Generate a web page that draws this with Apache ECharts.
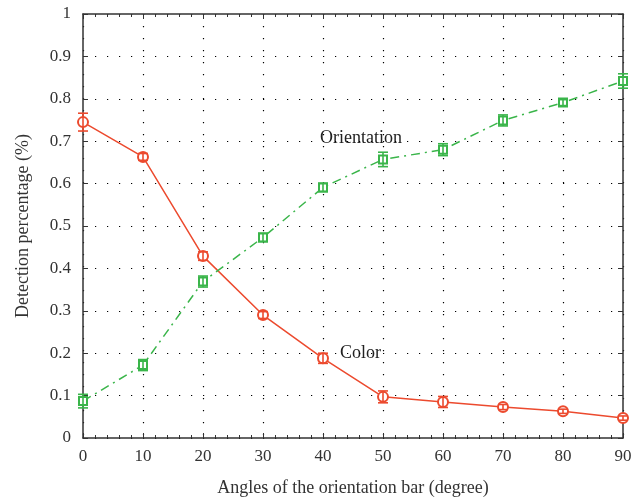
<!DOCTYPE html>
<html><head><meta charset="utf-8">
<script src="https://cdn.jsdelivr.net/npm/echarts@6/dist/echarts.min.js"></script>
<style>html,body{margin:0;padding:0;background:#fff}#c{width:644px;height:498px}</style>
</head><body><div id="c"></div>
<script>
var angles = [0, 10, 20, 30, 40, 50, 60, 70, 80, 90];
var colorVals = [0.745, 0.663, 0.429, 0.290, 0.188, 0.097, 0.085, 0.073, 0.063, 0.047];
var colorErr = [0.021, 0.008, 0.010, 0.008, 0.012, 0.014, 0.013, 0.006, 0.005, 0.005];
var orientVals = [0.087, 0.172, 0.369, 0.473, 0.591, 0.657, 0.680, 0.749, 0.791, 0.842];
var orientErr = [0.016, 0.013, 0.013, 0.010, 0.010, 0.017, 0.014, 0.013, 0.007, 0.017];
var yTicks = ['0','0.1','0.2','0.3','0.4','0.5','0.6','0.7','0.8','0.9','1'];

var RED = '#ec4a2e', GREEN = '#3ab54a';
var FONT = 'Liberation Serif';

function pairs(vals){ return angles.map(function(a,i){ return [a, vals[i]]; }); }
function errData(vals, errs){ return angles.map(function(a,i){ return [a, vals[i]-errs[i], vals[i]+errs[i]]; }); }
function errRender(color){
  return function(params, api){
    var x = api.value(0), lo = api.value(1), hi = api.value(2);
    var p1 = api.coord([x, lo]), p2 = api.coord([x, hi]);
    var w = 5;
    var st = {stroke: color, lineWidth: 1.6};
    return {type:'group', children:[
      {type:'line', shape:{x1:p1[0],y1:p1[1],x2:p2[0],y2:p2[1]}, style:st},
      {type:'line', shape:{x1:p1[0]-w,y1:p1[1],x2:p1[0]+w,y2:p1[1]}, style:st},
      {type:'line', shape:{x1:p2[0]-w,y1:p2[1],x2:p2[0]+w,y2:p2[1]}, style:st}
    ]};
  };
}

var chart = echarts.init(document.getElementById('c'));
var axisLabelStyle = {color:'#333', fontFamily: FONT, fontSize: 17};
var dotted = {show:true, lineStyle:{color:'#000', type:[1.2,10.8], width:1.2}};
chart.setOption({
  animation:false,
  grid:{left:83, right:21, top:14, bottom:60, outerBoundsMode:'none', containLabel:false},
  xAxis:[{
    type:'value', min:0, max:90, interval:10,
    axisLine:{show:true, lineStyle:{color:'#333', width:1.5}},
    axisTick:{show:true, inside:true, length:5, lineStyle:{color:'#333'}},
    minorTick:{show:true, splitNumber:5, length:3, lineStyle:{color:'#333'}},
    axisLabel:Object.assign({margin:10}, axisLabelStyle),
    splitLine:dotted,
    name:'Angles of the orientation bar (degree)', nameLocation:'middle', nameGap:41,
    nameTextStyle:{color:'#333', fontFamily:FONT, fontSize:18}
  },{
    type:'value', min:0, max:90, interval:10, position:'top',
    axisLine:{show:true, onZero:false, lineStyle:{color:'#333', width:1.5}},
    axisTick:{show:true, inside:true, length:5, lineStyle:{color:'#333'}},
    minorTick:{show:true, splitNumber:5, length:3, lineStyle:{color:'#333'}},
    axisLabel:{show:false}, splitLine:{show:false}
  }],
  yAxis:[{
    type:'value', min:0, max:1, interval:0.1,
    axisLine:{show:true, lineStyle:{color:'#333', width:1.5}},
    axisTick:{show:true, inside:true, length:5, lineStyle:{color:'#333'}},
    axisLabel:Object.assign({margin:12, formatter:function(v){ return yTicks[Math.round(v*10)]; }}, axisLabelStyle),
    splitLine:dotted,
    name:'Detection percentage (%)', nameLocation:'middle', nameGap:51,
    nameTextStyle:{color:'#333', fontFamily:FONT, fontSize:18}
  },{
    type:'value', min:0, max:1, interval:0.1, position:'right',
    axisLine:{show:true, onZero:false, lineStyle:{color:'#333', width:1.5}},
    axisTick:{show:true, inside:true, length:5, lineStyle:{color:'#333'}},
    axisLabel:{show:false}, splitLine:{show:false}
  }],
  series:[
    {type:'line', name:'Color', data:pairs(colorVals), symbol:'emptyCircle', symbolSize:10,
     itemStyle:{color:RED, borderWidth:1.5}, lineStyle:{color:RED, width:1.5}, z:3},
    {type:'custom', data:errData(colorVals, colorErr), renderItem:errRender(RED), encode:{x:0, y:[1,2]}, z:4},
    {type:'line', name:'Orientation', data:pairs(orientVals), symbol:'emptyRect', symbolSize:8,
     itemStyle:{color:GREEN, borderWidth:1.5}, lineStyle:{color:GREEN, width:1.5, type:[9,5,2,5]}, z:3},
    {type:'custom', data:errData(orientVals, orientErr), renderItem:errRender(GREEN), encode:{x:0, y:[1,2]}, z:4}
  ],
  graphic:[
    {type:'text', left:320, top:129, style:{text:'Orientation', fill:'#222', font:'18px "Liberation Serif"'}},
    {type:'text', left:340, top:344, style:{text:'Color', fill:'#222', font:'18px "Liberation Serif"'}}
  ]
});
</script></body></html>
